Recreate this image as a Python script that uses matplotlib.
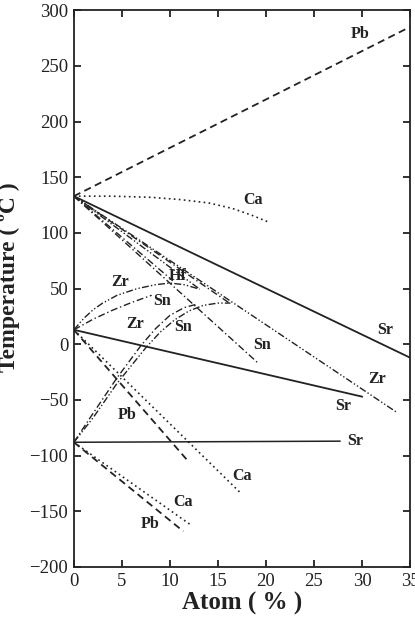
import matplotlib.pyplot as plt

plt.rcParams['font.family'] = ['Liberation Serif', 'DejaVu Serif']

# ---- data (atom %, temperature degC) ----
# upper transition (~133 C)
pb_up_x = [0, 35]
pb_up_y = [133, 285]
ca_up_x = [0, 4, 8, 11, 14, 16.5, 18.5, 20.2]
ca_up_y = [133, 133, 132, 130, 127, 122, 116, 110]
sr_up_x = [0, 35]
sr_up_y = [133, -12]
zr_up_x = [0, 33.6]
zr_up_y = [133, -61]
sn_up_x = [0, 19.2]
sn_up_y = [133, -17]
hf_x = [0, 10.3]
hf_y = [133, 57]
hf2_x = [0, 13.1]
hf2_y = [133, 49.5]
sn2_x = [0, 16.2]
sn2_y = [133, 37]

# middle transition (~13 C)
sr_mid_x = [0, 30]
sr_mid_y = [13, -47]
zr_arc1_x = [0, 1, 2, 3, 4.5, 6.6, 8.5, 10, 11.5, 13.1]
zr_arc1_y = [13, 23, 31, 37, 44, 50, 53.5, 55, 53.5, 49.5]
sn_arc1_x = [0, 2, 4, 6, 8.1]
sn_arc1_y = [13, 22.5, 30.5, 37.5, 44]
pb_mid_x = [0, 11.8]
pb_mid_y = [13, -104]
ca_mid_x = [0, 17.3]
ca_mid_y = [13, -133]

# lower transition (~-88 C)
sr_low_x = [0, 27.7]
sr_low_y = [-88, -87]
sn_arc2_x = [0, 2, 4.5, 7, 8.5, 10, 11.5, 12.8]
sn_arc2_y = [-88, -62, -30, -1, 14, 26, 33, 36]
zr_arc2_x = [0, 2, 4.5, 7.5, 9, 10.5, 12, 13.5, 15, 16.3]
zr_arc2_y = [-88, -66, -35, -3, 11, 22, 30, 35, 37, 37]
pb_low_x = [0, 11.4]
pb_low_y = [-88, -168]
ca_low_x = [0, 12.3]
ca_low_y = [-88, -163]

labels = ['Pb', 'Ca', 'Sr', 'Zr', 'Sr', 'Sr', 'Hf', 'Zr', 'Sn', 'Zr', 'Sn', 'Sn',
          'Pb', 'Ca', 'Ca', 'Pb']
label_x = [29.8, 18.6, 32.4, 31.6, 28.0, 29.3, 10.8, 4.8, 9.2, 6.4, 11.4, 19.6,
           5.6, 17.5, 11.4, 7.9]
label_y = [279, 130, 12.7, -31, -55.5, -87, 61, 56, 39, 18, 15.5, -0.7,
           -63.5, -118, -141.6, -161]

xticks = [0, 5, 10, 15, 20, 25, 30, 35]
yticks = [-200, -150, -100, -50, 0, 50, 100, 150, 200, 250, 300]

# line styles
dash = (0, (4, 2.5))
dot = (0, (1, 2))
dashdot = (0, (5, 2, 1, 2))
dashdotdot = (0, (5, 1.6, 1, 1.6, 1, 1.6))
c = '#222222'

fig = plt.figure(figsize=(4.15, 6.27), dpi=100)
ax = fig.add_axes([0.178, 0.0957, 0.81, 0.888])

ax.plot(pb_up_x, pb_up_y, color=c, lw=1.3, linestyle=dash)
ax.plot(ca_up_x, ca_up_y, color=c, lw=1.2, linestyle=dot)
ax.plot(sr_up_x, sr_up_y, color=c, lw=1.3, linestyle='-')
ax.plot(zr_up_x, zr_up_y, color=c, lw=1.0, linestyle=dashdotdot)
ax.plot(sn_up_x, sn_up_y, color=c, lw=1.0, linestyle=dashdot)
ax.plot(hf_x, hf_y, color=c, lw=1.0, linestyle=dashdot)
ax.plot(hf2_x, hf2_y, color=c, lw=1.0, linestyle=dashdotdot)
ax.plot(sn2_x, sn2_y, color=c, lw=1.0, linestyle=dashdot)

ax.plot(sr_mid_x, sr_mid_y, color=c, lw=1.3, linestyle='-')
ax.plot(zr_arc1_x, zr_arc1_y, color=c, lw=1.0, linestyle=dashdotdot)
ax.plot(sn_arc1_x, sn_arc1_y, color=c, lw=1.0, linestyle=dashdot)
ax.plot(pb_mid_x, pb_mid_y, color=c, lw=1.3, linestyle=dash)
ax.plot(ca_mid_x, ca_mid_y, color=c, lw=1.2, linestyle=dot)

ax.plot(sr_low_x, sr_low_y, color=c, lw=1.1, linestyle='-')
ax.plot(sn_arc2_x, sn_arc2_y, color=c, lw=1.0, linestyle=dashdot)
ax.plot(zr_arc2_x, zr_arc2_y, color=c, lw=1.0, linestyle=dashdotdot)
ax.plot(pb_low_x, pb_low_y, color=c, lw=1.3, linestyle=dash)
ax.plot(ca_low_x, ca_low_y, color=c, lw=1.2, linestyle=dot)

for t, x, y in zip(labels, label_x, label_y):
    ax.text(x, y, t, fontsize=11.5, fontweight='bold', color=c,
            ha='center', va='center')

ax.set_xlim(0, 35)
ax.set_ylim(-200, 300)
ax.set_xticks(xticks)
ax.set_yticks(yticks)
ax.tick_params(direction='in', length=5, width=1.3, top=True, right=True,
               labelsize=13.5, colors=c, pad=4)
for s in ax.spines.values():
    s.set_linewidth(1.3)
    s.set_color(c)

ax.set_xlabel('Atom ( % )', fontsize=18, fontweight='bold', color=c, labelpad=2)
ax.set_ylabel('Temperature ( ºC )', fontsize=17, fontweight='bold', color=c,
              labelpad=-2)
ax.yaxis.set_label_coords(-0.16, 0.52)

fig.savefig('out.png', dpi=100)
